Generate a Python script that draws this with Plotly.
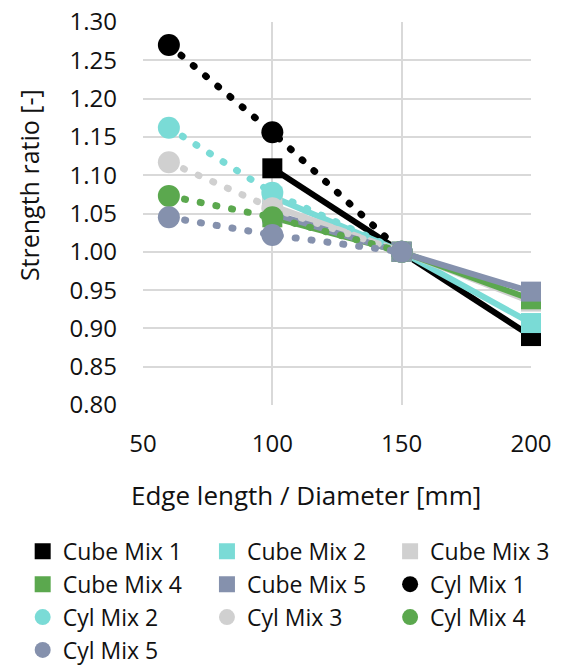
import plotly.graph_objects as go

# Data
cube_x = [100, 150, 200]
cyl_x = [60, 100, 150]

cube_mix1 = [1.109, 1.000, 0.890]
cube_mix2 = [1.072, 1.000, 0.907]
cube_mix3 = [1.060, 1.000, 0.935]
cube_mix4 = [1.045, 1.000, 0.938]
cube_mix5 = [1.050, 1.000, 0.948]

cyl_mix1 = [1.270, 1.156, 1.000]
cyl_mix2 = [1.162, 1.077, 1.000]
cyl_mix3 = [1.117, 1.057, 1.000]
cyl_mix4 = [1.073, 1.045, 1.000]
cyl_mix5 = [1.045, 1.022, 1.000]

cube_names = ["Cube Mix 1", "Cube Mix 2", "Cube Mix 3", "Cube Mix 4", "Cube Mix 5"]
cyl_names = ["Cyl Mix 1", "Cyl Mix 2", "Cyl Mix 3", "Cyl Mix 4", "Cyl Mix 5"]
colors = ["#000000", "#7adbd6", "#d0d0d0", "#5ba84e", "#8591ad"]

cube_vals = [cube_mix1, cube_mix2, cube_mix3, cube_mix4, cube_mix5]
cyl_vals = [cyl_mix1, cyl_mix2, cyl_mix3, cyl_mix4, cyl_mix5]

# legend column layout (Excel-like: 3 columns, row-major order)
legend_order = cube_names + cyl_names
legend_ids = ["legend", "legend2", "legend3"]

FONT = "Open Sans"
TXT = "#111111"
fig = go.Figure()

for name, vals, c in zip(cube_names, cube_vals, colors):
    fig.add_trace(go.Scatter(x=cube_x, y=vals, mode="lines+markers", name=name,
                             line=dict(color=c, width=6),
                             marker=dict(symbol="square", size=20, color=c),
                             showlegend=False, cliponaxis=False))
for name, vals, c in zip(cyl_names, cyl_vals, colors):
    fig.add_trace(go.Scatter(x=cyl_x, y=vals, mode="lines+markers", name=name,
                             line=dict(color=c, width=7, dash="1px,15px"),
                             marker=dict(symbol="circle", size=22, color=c),
                             showlegend=False, cliponaxis=False))

# legend entries (marker only), distributed over three column legends
symbols = ["square"] * 5 + ["circle"] * 5
leg_colors = colors + colors
for i, (name, sym, c) in enumerate(zip(legend_order, symbols, leg_colors)):
    fig.add_trace(go.Scatter(x=[None], y=[None], mode="markers", name=name,
                             marker=dict(symbol=sym, size=16, color=c),
                             legend=legend_ids[i % 3]))

leg_common = dict(orientation="v", xref="container", yref="container",
                  xanchor="left", yanchor="top", y=0.2045,
                  font=dict(size=23, color=TXT, family=FONT), itemwidth=30,
                  tracegroupgap=0, bgcolor="rgba(0,0,0,0)", borderwidth=0)

fig.update_layout(
    width=567, height=666,
    margin=dict(l=143, r=36, t=22, b=261, autoexpand=False),
    paper_bgcolor="white", plot_bgcolor="white",
    font=dict(family=FONT, size=24, color=TXT),
    showlegend=True,
    xaxis=dict(range=[50, 200], tickvals=[50, 100, 150, 200],
               showgrid=True, gridcolor="#d9d9d9", gridwidth=1.5,
               zeroline=False, showline=False, ticks="",
               tickfont=dict(size=24, color=TXT),
               ticklabelstandoff=22, automargin=False),
    yaxis=dict(range=[0.80, 1.30],
               tickvals=[0.80, 0.85, 0.90, 0.95, 1.00, 1.05, 1.10, 1.15, 1.20, 1.25, 1.30],
               tickformat=".2f",
               showgrid=True, gridcolor="#d9d9d9", gridwidth=1.5,
               zeroline=False, showline=False, ticks="",
               tickfont=dict(size=24, color=TXT),
               ticklabelstandoff=25, automargin=False),
    legend=dict(x=0.040, **leg_common),
    legend2=dict(x=0.365, **leg_common),
    legend3=dict(x=0.688, **leg_common),
    annotations=[
        dict(text="Edge length / Diameter [mm]", xref="paper", yref="paper",
             x=-0.036, y=-0.235, xanchor="left", yanchor="middle",
             showarrow=False, font=dict(size=26, color=TXT)),
        dict(text="Strength ratio [-]", xref="paper", yref="paper",
             x=-0.294, y=0.574, xanchor="center", yanchor="middle",
             textangle=-90, showarrow=False, font=dict(size=25, color=TXT)),
    ],
)

# Excel-style round dots for the dotted cylinder lines
post = """
document.querySelectorAll('.scatterlayer path.js-line').forEach(function(p){
  if ((p.style.strokeDasharray || '') !== '' && p.style.strokeDasharray !== 'none') {
    p.style.strokeLinecap = 'round';
  }
});
"""
fig.write_html("out.html", post_script=post)
